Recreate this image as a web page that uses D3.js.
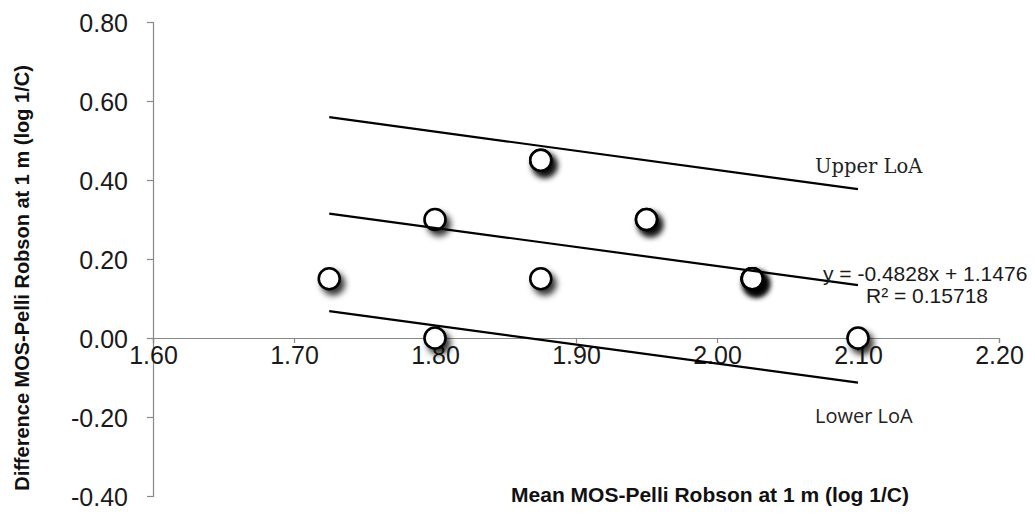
<!DOCTYPE html>
<html>
<head>
<meta charset="utf-8">
<script src="https://cdn.jsdelivr.net/npm/d3@7"></script>
<style>
  html, body { margin: 0; padding: 0; background: #fff; }
  svg { display: block; }
</style>
</head>
<body>
<svg id="chart" width="1035" height="521"></svg>
<script>
// ---- data ----
const meanValues = [1.725, 1.80, 1.80, 1.875, 1.875, 1.875, 1.95, 1.95, 2.025, 2.025, 2.025, 2.025, 2.10];
const diffValues = [0.15, 0.30, 0.00, 0.45, 0.45, 0.15, 0.30, 0.30, 0.15, 0.15, 0.15, 0.15, 0.00];
const lineXs = [1.725, 2.10];
const upperLoA = [0.559, 0.377];
const regressionLine = [0.315, 0.134];
const lowerLoA = [0.068, -0.113];
const xTicks = [1.60, 1.70, 1.80, 1.90, 2.00, 2.10, 2.20];
const yTicks = [-0.40, -0.20, 0.00, 0.20, 0.40, 0.60, 0.80];
const xTitle = "Mean MOS-Pelli Robson at 1 m (log 1/C)";
const yTitle = "Difference MOS-Pelli Robson at 1 m (log 1/C)";
const equationText = "y = -0.4828x + 1.1476";
const r2Text = "R\u00B2 = 0.15718";
const upperLabel = "Upper LoA";
const lowerLabel = "Lower LoA";

// ---- layout ----
const svg = d3.select("#chart");
const x = d3.scaleLinear().domain([1.6, 2.2]).range([153, 999]);
const y = d3.scaleLinear().domain([-0.4, 0.8]).range([496, 22]);
const axisColor = "#888";
const textColor = "#1a1a1a";
const fmt = d => d.toFixed(2);

const defs = svg.append("defs");
const f = defs.append("filter").attr("id", "shadow")
  .attr("x", "-80%").attr("y", "-80%").attr("width", "260%").attr("height", "260%");
f.append("feDropShadow").attr("dx", 4).attr("dy", 5).attr("stdDeviation", 3.4)
  .attr("flood-color", "#000").attr("flood-opacity", 0.8);

// Y axis
const yAxis = svg.append("g").attr("transform", `translate(${x(1.6)},0)`)
  .call(d3.axisLeft(y).tickValues(yTicks).tickFormat(fmt).tickSizeOuter(0).tickSize(6).tickPadding(0));
yAxis.select(".domain").attr("stroke", axisColor).attr("stroke-width", 1.2);
yAxis.selectAll(".tick line").attr("stroke", axisColor).attr("stroke-width", 1.2);
yAxis.selectAll(".tick text")
  .attr("x", -25).attr("dy", "0.36em")
  .attr("fill", textColor)
  .style("font-family", "'Liberation Sans', Arial, sans-serif")
  .style("font-size", "25px");

// X axis at y = 0
const xAxis = svg.append("g").attr("transform", `translate(0,${y(0)})`)
  .call(d3.axisBottom(x).tickValues(xTicks).tickFormat(fmt).tickSizeOuter(0).tickSize(5).tickPadding(0));
xAxis.select(".domain").attr("stroke", axisColor).attr("stroke-width", 1.2);
xAxis.selectAll(".tick line").attr("stroke", axisColor).attr("stroke-width", 1.2);
xAxis.selectAll(".tick text")
  .attr("y", 26).attr("dy", 0)
  .attr("fill", textColor)
  .style("font-family", "'Liberation Sans', Arial, sans-serif")
  .style("font-size", "25px");

// points
svg.append("g").selectAll("circle")
  .data(meanValues.map((m, i) => ({ m, d: diffValues[i] })))
  .join("circle")
  .attr("cx", p => x(p.m))
  .attr("cy", p => y(p.d))
  .attr("r", 10.5)
  .attr("fill", "#fff")
  .attr("stroke", "#000")
  .attr("stroke-width", 2.6)
  .attr("filter", "url(#shadow)");

// lines
const lines = [upperLoA, regressionLine, lowerLoA];
svg.append("g").selectAll("line")
  .data(lines)
  .join("line")
  .attr("x1", x(lineXs[0])).attr("x2", x(lineXs[1]))
  .attr("y1", l => y(l[0])).attr("y2", l => y(l[1]))
  .attr("stroke", "#000").attr("stroke-width", 2.2);

// labels
svg.append("text").attr("x", 815).attr("y", 173)
  .style("font-family", "'DejaVu Serif', serif").style("font-size", "19.5px")
  .attr("fill", "#222").text(upperLabel);
svg.append("text").attr("x", 815).attr("y", 423)
  .style("font-family", "'Open Sans', sans-serif").style("font-size", "20px")
  .attr("fill", "#222").text(lowerLabel);
svg.append("text").attr("x", 823).attr("y", 281)
  .style("font-family", "'Liberation Sans', Arial, sans-serif").style("font-size", "21px")
  .attr("fill", textColor).text(equationText);
svg.append("text").attr("x", 866).attr("y", 303)
  .style("font-family", "'Liberation Sans', Arial, sans-serif").style("font-size", "21px")
  .attr("fill", textColor).text(r2Text);

// axis titles
svg.append("text").attr("x", 710).attr("y", 502).attr("text-anchor", "middle")
  .style("font-family", "'Liberation Sans', Arial, sans-serif").style("font-size", "21px")
  .style("font-weight", "bold").attr("fill", "#111").text(xTitle);
svg.append("text").attr("transform", "translate(29,278) rotate(-90)").attr("text-anchor", "middle")
  .style("font-family", "'Liberation Sans', Arial, sans-serif").style("font-size", "20px")
  .style("font-weight", "bold").attr("fill", "#111").text(yTitle);
</script>
</body>
</html>
